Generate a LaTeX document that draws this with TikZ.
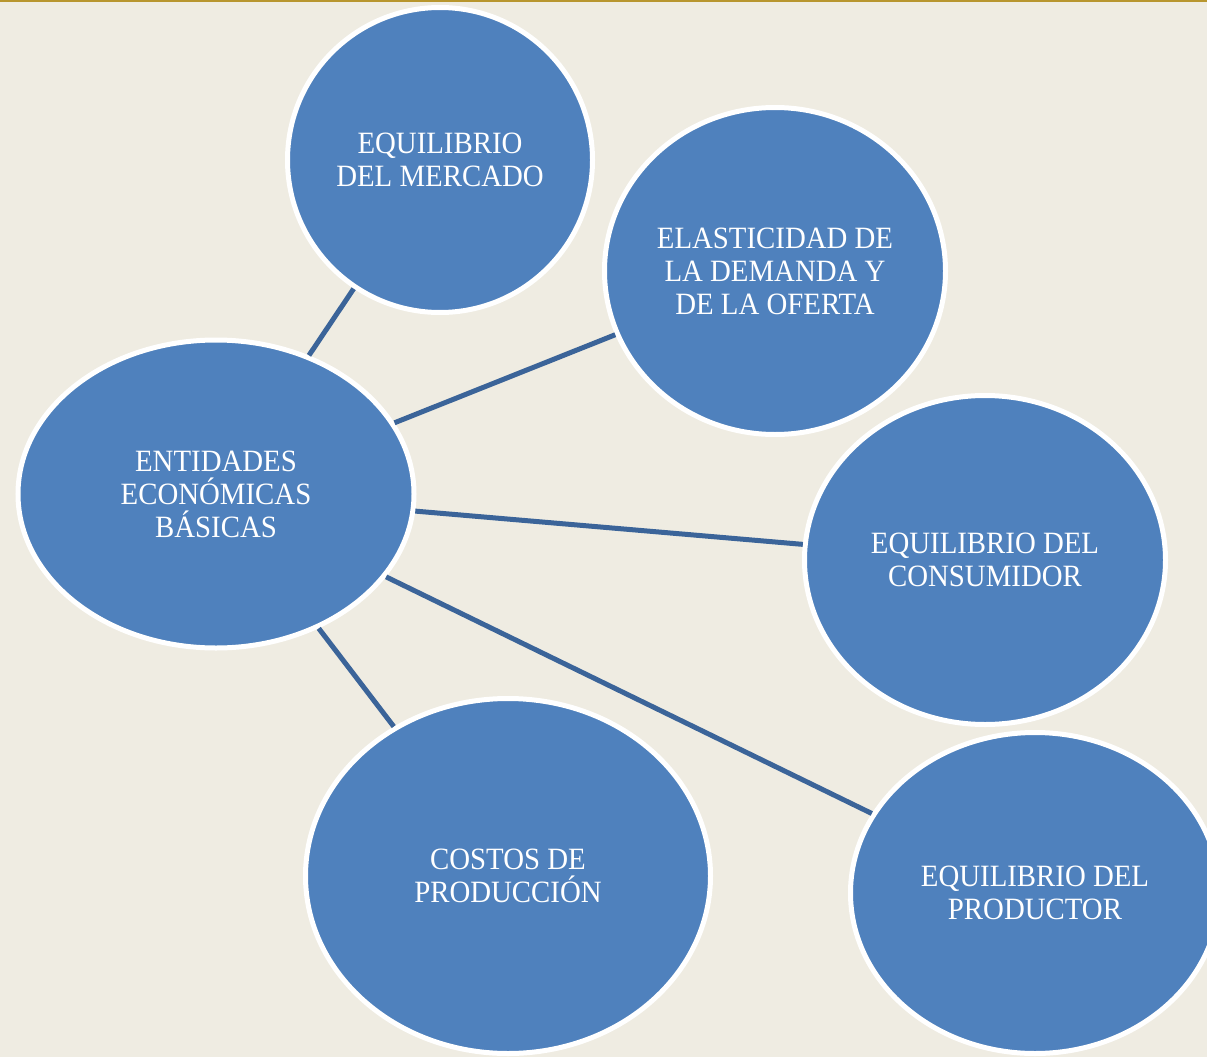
\documentclass[tikz,border=0pt]{standalone}
\usepackage{fontspec}
\setmainfont{Liberation Serif}[FakeStretch=0.93]
\usetikzlibrary{shapes.geometric}
\definecolor{bgbeige}{HTML}{EFECE2}
\definecolor{goldline}{HTML}{B8962E}
\definecolor{bubble}{HTML}{4F81BD}
\definecolor{linkblue}{HTML}{3B6499}
\tikzset{
  bubblenode/.style={ellipse, fill=bubble, draw=white, line width=5pt, inner sep=0pt,
    text=white, align=center, font=\fontsize{31}{33}\selectfont},
  linkline/.style={draw=linkblue, line width=5pt}
}
\begin{document}
\begin{tikzpicture}[x=1pt,y=-1pt]
\fill[bgbeige] (0,0) rectangle (1207,1057);
\useasboundingbox (0,0) rectangle (1207,1057);
\fill[goldline] (0,0) rectangle (1207,2.5);
\node[bubblenode, minimum width=305pt, minimum height=305pt] (mer) at (440,160) {EQUILIBRIO\\DEL MERCADO};
\node[bubblenode, minimum width=341pt, minimum height=327pt] (ela) at (775,271) {ELASTICIDAD DE\\LA DEMANDA Y\\DE LA OFERTA};
\node[bubblenode, minimum width=396pt, minimum height=308pt] (ent) at (216,494) {ENTIDADES\\ECONÓMICAS\\BÁSICAS};
\node[bubblenode, minimum width=361pt, minimum height=329pt] (con) at (985,560) {EQUILIBRIO DEL\\CONSUMIDOR};
\node[bubblenode, minimum width=405pt, minimum height=355pt] (cos) at (508,876) {COSTOS DE\\PRODUCCIÓN};
\node[bubblenode, minimum width=369pt, minimum height=321pt] (pro) at (1035,893) {EQUILIBRIO DEL\\PRODUCTOR};
\draw[linkline] (ent) -- (mer);
\draw[linkline] (ent) -- (ela);
\draw[linkline] (ent) -- (con);
\draw[linkline] (ent) -- (pro);
\draw[linkline] (ent) -- (cos);
\end{tikzpicture}
\end{document}
